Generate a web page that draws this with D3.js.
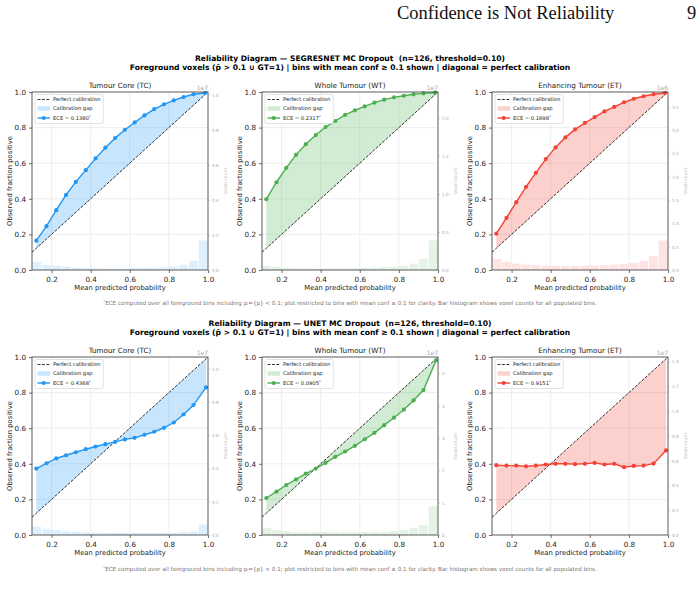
<!DOCTYPE html>
<html>
<head>
<meta charset="utf-8">
<script src="https://cdn.jsdelivr.net/npm/d3@7"></script>
<style>
  body { margin: 0; background: #fff; }
  text { font-family: "DejaVu Sans", sans-serif; }
</style>
</head>
<body>
<svg id="fig" width="700" height="608"></svg>
<script>
// ---- data ----
const binLo = [0.10, 0.15, 0.20, 0.25, 0.30, 0.35, 0.40, 0.45, 0.50, 0.55, 0.60, 0.65, 0.70, 0.75, 0.80, 0.85, 0.90, 0.95];
const binWidth = 0.05;
const meanConfSeg  = [0.122, 0.174, 0.224, 0.274, 0.324, 0.375, 0.425, 0.475, 0.525, 0.575, 0.625, 0.675, 0.725, 0.775, 0.825, 0.875, 0.926, 0.985];
const meanConfUnet = [0.122, 0.174, 0.224, 0.274, 0.324, 0.375, 0.425, 0.475, 0.525, 0.575, 0.625, 0.675, 0.725, 0.775, 0.825, 0.875, 0.926, 0.990];

const segTCFrac = [0.165, 0.246, 0.336, 0.422, 0.495, 0.561, 0.627, 0.687, 0.741, 0.788, 0.829, 0.869, 0.904, 0.931, 0.953, 0.972, 0.987, 0.994];
const segWTFrac = [0.398, 0.493, 0.574, 0.647, 0.707, 0.758, 0.803, 0.837, 0.871, 0.897, 0.919, 0.940, 0.957, 0.970, 0.979, 0.987, 0.992, 0.996];
const segETFrac = [0.204, 0.293, 0.381, 0.467, 0.546, 0.623, 0.689, 0.745, 0.790, 0.826, 0.859, 0.891, 0.916, 0.942, 0.962, 0.976, 0.987, 0.994];
const unetTCFrac = [0.373, 0.403, 0.430, 0.448, 0.465, 0.482, 0.497, 0.510, 0.523, 0.537, 0.546, 0.563, 0.580, 0.602, 0.632, 0.677, 0.730, 0.829];
const unetWTFrac = [0.208, 0.244, 0.281, 0.313, 0.345, 0.373, 0.405, 0.439, 0.469, 0.501, 0.538, 0.574, 0.617, 0.659, 0.704, 0.756, 0.814, 0.981];
const unetETFrac = [0.392, 0.390, 0.390, 0.386, 0.390, 0.396, 0.400, 0.400, 0.398, 0.400, 0.405, 0.396, 0.400, 0.381, 0.388, 0.390, 0.401, 0.475];

const segTCCount = [456000, 285000, 245000, 190000, 130000, 114000, 97000, 74000, 74000, 74000, 97000, 114000, 130000, 154000, 210000, 300000, 530000, 1690000];
const segWTCount = [530000, 390000, 260000, 220000, 220000, 170000, 170000, 170000, 220000, 220000, 260000, 300000, 390000, 440000, 570000, 830000, 1450000, 3900000];
const segETCount = [236000, 172000, 135000, 114000, 107000, 92000, 92000, 86000, 86000, 92000, 100000, 107000, 114000, 129000, 150000, 193000, 300000, 630000];
const unetTCCount = [500000, 360000, 300000, 220000, 200000, 160000, 140000, 120000, 120000, 120000, 120000, 120000, 120000, 120000, 140000, 180000, 220000, 640000];
const unetWTCount = [2200000, 1500000, 1200000, 900000, 900000, 900000, 900000, 900000, 900000, 900000, 900000, 900000, 900000, 1200000, 1500000, 2200000, 3100000, 9000000];
const unetETCount = [20000, 20000, 20000, 20000, 20000, 20000, 20000, 20000, 20000, 20000, 20000, 20000, 20000, 20000, 20000, 20000, 20000, 20000];

// upper limit of the voxel-count axis in each panel
const segCountMax  = [1.0154e7, 2.34e7, 3.82e6];
const unetCountMax = [1.07e7, 5.51e7, 1.437e7];

const regionTitles = ["Tumour Core (TC)", "Whole Tumour (WT)", "Enhancing Tumour (ET)"];
const regionColors = ["#2196F3", "#4CAF50", "#F44336"];
const segECE  = ["0.1380", "0.2317", "0.1698"];
const unetECE = ["0.4368", "0.0905", "0.9151"];

const modelNames = ["SEGRESNET", "UNET"];
const subtitle = "Foreground voxels (p\u0304 > 0.1 \u222A GT=1) | bins with mean conf \u2265 0.1 shown | diagonal = perfect calibration";
const footnote = "ECE computed over all foreground bins including p\u1D62={p} < 0.1; plot restricted to bins with mean conf \u2265 0.1 for clarity. Bar histogram shows voxel counts for all populated bins.";

const models = [
  { name: modelNames[0], conf: meanConfSeg, fracs: [segTCFrac, segWTFrac, segETFrac],
    counts: [segTCCount, segWTCount, segETCount], max: segCountMax, ece: segECE },
  { name: modelNames[1], conf: meanConfUnet, fracs: [unetTCFrac, unetWTFrac, unetETFrac],
    counts: [unetTCCount, unetWTCount, unetETCount], max: unetCountMax, ece: unetECE }
];

// ---- layout ----
const svg = d3.select("#fig");
const W = 176, H = 178;
const colLeft = [32, 262, 492];
const rowTop = [92, 357];
const titleY = [58, 323];
const footY = [303, 569];
const ink = "#333";

// page header
svg.append("text").attr("x", 397).attr("y", 19)
  .style("font-family", "'Liberation Serif', serif").attr("font-size", 18.5)
  .attr("fill", "#111").text("Confidence is Not Reliability");
svg.append("text").attr("x", 687).attr("y", 19)
  .style("font-family", "'Liberation Serif', serif").attr("font-size", 18.5)
  .attr("fill", "#111").text("9");

models.forEach((m, r) => {
  svg.append("text").attr("x", 350).attr("y", titleY[r] + 2.7)
    .attr("text-anchor", "middle").attr("font-size", 7.6).attr("font-weight", "bold")
    .attr("xml:space", "preserve")
    .text(`Reliability Diagram \u2014 ${m.name} MC Dropout  (n=126, threshold=0.10)`);
  svg.append("text").attr("x", 350).attr("y", titleY[r] + 11.7)
    .attr("text-anchor", "middle").attr("font-size", 7.6).attr("font-weight", "bold")
    .text(subtitle);

  const fn = svg.append("text").attr("x", 350).attr("y", footY[r] + 2)
    .attr("text-anchor", "middle").attr("font-size", 5.6).attr("fill", "#777");
  fn.append("tspan").attr("font-size", 4).attr("dy", -1.8).text("*");
  fn.append("tspan").attr("dy", 1.8).text(footnote);

  m.fracs.forEach((frac, c) => {
    const g = svg.append("g").attr("transform", `translate(${colLeft[c]},${rowTop[r]})`);
    drawPanel(g, {
      title: regionTitles[c], color: regionColors[c], conf: m.conf, frac: frac,
      count: m.counts[c], countMax: m.max[c], ece: m.ece[c]
    });
  });
});

function drawPanel(g, p) {
  const x = d3.scaleLinear().domain([0.1, 1.0]).range([0, W]);
  const y = d3.scaleLinear().domain([0, 1]).range([H, 0]);
  const exp = Math.floor(Math.log10(p.countMax));
  const unit = Math.pow(10, exp);
  const yc = d3.scaleLinear().domain([0, p.countMax / unit]).range([H, 0]);

  const pts = p.conf.map((c, i) => ({ c: c, f: p.frac[i] }));

  // grid
  const grid = g.append("g").attr("stroke", "#e6e6e6").attr("stroke-width", 0.7);
  [0.2, 0.4, 0.6, 0.8].forEach(t => {
    grid.append("line").attr("x1", x(t)).attr("x2", x(t)).attr("y1", 0).attr("y2", H);
    grid.append("line").attr("x1", 0).attr("x2", W).attr("y1", y(t)).attr("y2", y(t));
  });

  // voxel count bars
  g.append("g").selectAll("rect").data(binLo).join("rect")
    .attr("x", d => x(d + binWidth * 0.05))
    .attr("width", x(0.1 + binWidth * 0.9) - x(0.1))
    .attr("y", (d, i) => yc(p.count[i] / unit))
    .attr("height", (d, i) => H - yc(p.count[i] / unit))
    .attr("fill", p.color).attr("fill-opacity", 0.15);

  // calibration gap
  g.append("path").datum(pts)
    .attr("d", d3.area().x(d => x(d.c)).y0(d => y(d.c)).y1(d => y(d.f)))
    .attr("fill", p.color).attr("fill-opacity", 0.25);

  // perfect calibration
  g.append("line").attr("x1", x(0.1)).attr("y1", y(0.1)).attr("x2", x(1)).attr("y2", y(1))
    .attr("stroke", "#000").attr("stroke-width", 0.8).attr("stroke-dasharray", "3,1.4");

  // reliability curve
  g.append("path").datum(pts)
    .attr("d", d3.line().x(d => x(d.c)).y(d => y(d.f)))
    .attr("fill", "none").attr("stroke", p.color).attr("stroke-width", 1.4);
  g.append("g").selectAll("circle").data(pts).join("circle")
    .attr("cx", d => x(d.c)).attr("cy", d => y(d.f)).attr("r", 2.1)
    .attr("fill", p.color);

  // frame
  g.append("rect").attr("width", W).attr("height", H)
    .attr("fill", "none").attr("stroke", ink).attr("stroke-width", 0.8);

  // bottom axis
  const xa = g.append("g").attr("transform", `translate(0,${H})`)
    .call(d3.axisBottom(x).tickValues([0.2, 0.4, 0.6, 0.8, 1.0]).tickFormat(d3.format(".1f")).tickSize(3));
  // left axis
  const ya = g.append("g")
    .call(d3.axisLeft(y).tickValues([0, 0.2, 0.4, 0.6, 0.8, 1.0]).tickFormat(d3.format(".1f")).tickSize(3));
  [xa, ya].forEach(a => {
    a.select(".domain").remove();
    a.selectAll("line").attr("stroke", ink).attr("stroke-width", 0.7);
    a.selectAll("text").attr("font-size", 7.2).attr("fill", "#222")
      .style("font-family", "'DejaVu Sans', sans-serif");
  });
  xa.selectAll("text").attr("dy", "0.8em");

  // right (voxel count) axis
  const ticks = yc.ticks(6);
  const step = ticks[1] - ticks[0];
  const ra = g.append("g").attr("transform", `translate(${W},0)`)
    .call(d3.axisRight(yc).tickValues(ticks).tickFormat(d3.format(`.${d3.precisionFixed(step)}f`)).tickSize(2));
  ra.select(".domain").remove();
  ra.selectAll("line").attr("stroke", "#aaa").attr("stroke-width", 0.6);
  ra.selectAll("text").attr("font-size", 4.3).attr("fill", "#aaa").attr("x", 4)
    .style("font-family", "'DejaVu Sans', sans-serif");
  g.append("text").attr("x", W).attr("y", -2.5).attr("text-anchor", "end")
    .attr("font-size", 6).attr("fill", "#aaa").text(`1e${exp}`);
  g.append("text").attr("transform", `translate(${W + 19},${H / 2}) rotate(-90)`)
    .attr("text-anchor", "middle").attr("font-size", 4.6).attr("fill", "#bbb").text("Voxel count");

  // labels
  g.append("text").attr("x", W / 2).attr("y", -4).attr("text-anchor", "middle")
    .attr("font-size", 7.2).attr("fill", "#222").text(p.title);
  g.append("text").attr("x", W / 2).attr("y", H + 20).attr("text-anchor", "middle")
    .attr("font-size", 6.8).attr("fill", "#222").text("Mean predicted probability");
  g.append("text").attr("transform", `translate(-20,${H / 2}) rotate(-90)`)
    .attr("text-anchor", "middle").attr("font-size", 6.8).attr("fill", "#222").text("Observed fraction positive");

  // legend
  const lg = g.append("g").attr("transform", "translate(3,2.5)");
  const box = lg.append("rect").attr("rx", 1.5).attr("fill", "#fff").attr("fill-opacity", 0.85)
    .attr("stroke", "#d0d0d0").attr("stroke-width", 0.6);
  const rows = [5, 14, 23.5];
  lg.append("line").attr("x1", 2.5).attr("x2", 15).attr("y1", rows[0]).attr("y2", rows[0])
    .attr("stroke", "#000").attr("stroke-width", 0.8).attr("stroke-dasharray", "3,1.4");
  lg.append("rect").attr("x", 2.5).attr("y", rows[1] - 2.2).attr("width", 12.5).attr("height", 4.4)
    .attr("fill", p.color).attr("fill-opacity", 0.25);
  lg.append("line").attr("x1", 2.5).attr("x2", 15).attr("y1", rows[2]).attr("y2", rows[2])
    .attr("stroke", p.color).attr("stroke-width", 1.4);
  lg.append("circle").attr("cx", 8.75).attr("cy", rows[2]).attr("r", 2.1).attr("fill", p.color);
  const t1 = lg.append("text").attr("x", 18).attr("y", rows[0] + 1.8).attr("font-size", 5.2).attr("fill", "#222").text("Perfect calibration");
  lg.append("text").attr("x", 18).attr("y", rows[1] + 1.8).attr("font-size", 5.2).attr("fill", "#222").text("Calibration gap");
  const t3 = lg.append("text").attr("x", 18).attr("y", rows[2] + 1.8).attr("font-size", 5.2).attr("fill", "#222");
  t3.append("tspan").text(`ECE = ${p.ece}`);
  t3.append("tspan").attr("font-size", 3.6).attr("dy", -1.6).text("*");
  const wText = Math.max(t1.node().getComputedTextLength(), t3.node().getComputedTextLength());
  box.attr("width", 18 + wText + 3).attr("height", 29);
}
</script>
</body>
</html>
